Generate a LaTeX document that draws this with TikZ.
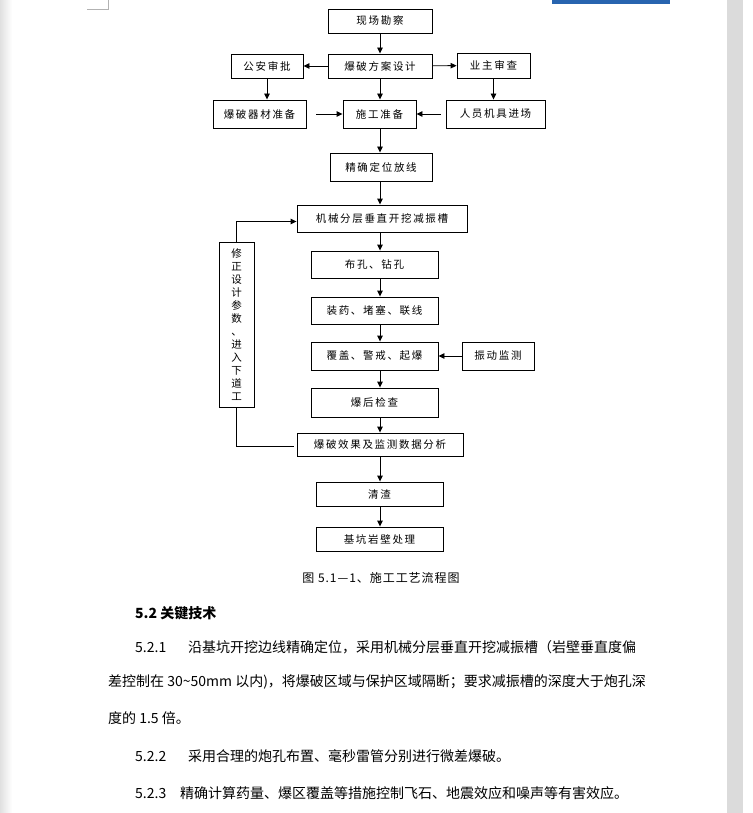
\documentclass[tikz,border=0pt]{standalone}
\usepackage{fontspec}
\setmainfont{Noto Sans CJK SC}
\newfontfamily\boxfont[LetterSpace=16]{Noto Sans CJK SC}
\usetikzlibrary{arrows.meta,positioning}
\definecolor{bannerblue}{RGB}{40,100,175}
\tikzset{arr/.style={-{Triangle[length=6pt,width=5.5pt]}, line width=0.9pt},
  stepbox/.style={draw, line width=0.9pt, inner sep=0pt, font=\boxfont\fontsize{10.5}{13}\selectfont},
  bodytext/.style={anchor=west, inner sep=0pt, font=\fontsize{14}{16}\selectfont}}

\begin{document}
\begin{tikzpicture}[x=1pt,y=-1pt]
  \useasboundingbox (0,0) rectangle (752,813);
  % page edges
  \fill[white] (0,0) rectangle (752,813);
  \shade[left color=black!12, right color=white] (0,0) rectangle (12,813);
  \fill[black!14] (727,0) rectangle (743,813);
  \draw[black!30] (87,9) -- (108,9) -- (108,0);
  \fill[bannerblue] (552,0) rectangle (670,4);
  % top part
  \node[stepbox, minimum width=104pt, minimum height=24pt] (survey) at (380,21) {现场勘察};
  \node[stepbox, minimum width=104pt, minimum height=24pt] (design) at (380,66) {爆破方案设计};
  \node[stepbox, minimum width=72pt, minimum height=24pt] (police) at (267,66) {公安审批};
  \node[stepbox, minimum width=73pt, minimum height=25pt] (owner) at (493.5,65.5) {业主审查};
  \node[stepbox, minimum width=93pt, minimum height=28pt] (material) at (259.5,114) {爆破器材准备};
  \node[stepbox, minimum width=73pt, minimum height=28pt] (prep) at (379.5,114) {施工准备};
  \node[stepbox, minimum width=99pt, minimum height=28pt] (staff) at (495.5,114) {人员机具进场};
  \node[stepbox, minimum width=102pt, minimum height=28pt] (locate) at (381,167) {精确定位放线};
  \node[stepbox, minimum width=170pt, minimum height=27pt] (trench) at (382,218.5) {机械分层垂直开挖减振槽};
  % blasting steps
  \node[stepbox, minimum width=127pt, minimum height=27pt] (drill) at (374.5,264.5) {布孔、钻孔};
  \node[stepbox, minimum width=127pt, minimum height=27pt] (charge) at (374.5,310.5) {装药、堵塞、联线};
  \node[stepbox, minimum width=127pt, minimum height=28pt] (cover) at (374.5,356) {覆盖、警戒、起爆};
  \node[stepbox, minimum width=72pt, minimum height=28pt] (monitor) at (498,356) {振动监测};
  \node[stepbox, minimum width=127pt, minimum height=29pt] (inspect) at (374.5,402.5) {爆后检查};
  \node[stepbox, minimum width=166pt, minimum height=23pt] (analysis) at (380,444.5) {爆破效果及监测数据分析};
  \node[stepbox, minimum width=127pt, minimum height=24pt] (clean) at (379.5,494) {清渣};
  \node[stepbox, minimum width=127pt, minimum height=24pt] (wall) at (379.5,539) {基坑岩壁处理};
  \node[stepbox, minimum width=35pt, minimum height=165pt, align=center] (fix) at (236.5,324.5)
    {修\\正\\设\\计\\参\\数\\、\\进\\入\\下\\道\\工};
  \coordinate (spine) at (380,0);
  % arrows
  \draw[arr] (survey) -- (design);
  \draw[arr] (design) -- (police);
  \draw[arr] (design) -- (owner);
  \draw[arr] (police.south) -- (police.south |- material.north);
  \draw[arr] (design.south) -- (design.south |- prep.north);
  \draw[arr] (owner.south) -- (owner.south |- staff.north);
  \draw[arr, shorten <=10pt] (material) -- (prep);
  \draw[arr, shorten <=5pt] (staff) -- (prep);
  \draw[arr] (prep.south -| spine) -- (locate.north -| spine);
  \draw[arr] (locate.south -| spine) -- (trench.north -| spine);
  \draw[arr] (trench.south -| spine) -- (drill.north -| spine);
  \draw[arr] (drill.south -| spine) -- (charge.north -| spine);
  \draw[arr] (charge.south -| spine) -- (cover.north -| spine);
  \draw[arr] (cover.south -| spine) -- (inspect.north -| spine);
  \draw[arr] (inspect.south -| spine) -- (analysis.north -| spine);
  \draw[arr] (analysis.south -| spine) -- (clean.north -| spine);
  \draw[arr] (clean.south -| spine) -- (wall.north -| spine);
  \draw[arr] (monitor) -- (cover);
  % feedback loop
  \draw[arr] (fix.north) |- ([yshift=-3pt]trench.west);
  \draw[line width=0.9pt, shorten >=3pt] (fix.south) |- ([yshift=-1.5pt]analysis.west);
  % caption and text
  \node[font=\addfontfeature{LetterSpace=8}\fontsize{12}{14}\selectfont] (caption) at (381,578) {图 5.1—1、施工工艺流程图};
  \node[bodytext, font=\bfseries\fontsize{14}{16}\selectfont] (head) at (135,613) {5.2\ 关键技术};
  \node[bodytext] (p1) at (135,647) {\makebox[53pt][l]{5.2.1}沿基坑开挖边线精确定位，采用机械分层垂直开挖减振槽（岩壁垂直度偏};
  \node[bodytext] (p2) at (108,682) {差控制在 30\textasciitilde50mm 以内)，将爆破区域与保护区域隔断；要求减振槽的深度大于炮孔深};
  \node[bodytext] (p3) at (108,718) {度的 1.5 倍。};
  \node[bodytext] (p4) at (135,756) {\makebox[53pt][l]{5.2.2}采用合理的炮孔布置、毫秒雷管分别进行微差爆破。};
  \node[bodytext] (p5) at (135,793) {\makebox[45pt][l]{5.2.3}精确计算药量、爆区覆盖等措施控制飞石、地震效应和噪声等有害效应。};
\end{tikzpicture}
\end{document}
